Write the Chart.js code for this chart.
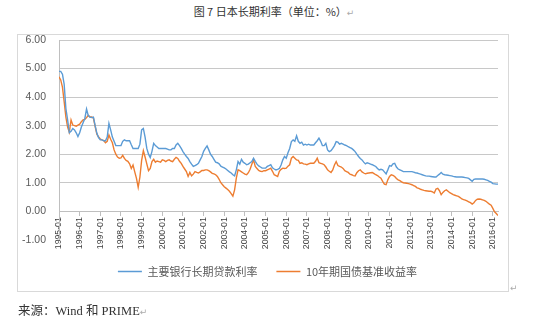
<!DOCTYPE html>
<html>
<head>
<meta charset="utf-8">
<script src="https://cdn.jsdelivr.net/npm/chart.js@4.4.0/dist/chart.umd.min.js"></script>
<style>
  body { margin: 0; background: #fff; }
  #pagina { position: relative; width: 550px; height: 322px; overflow: hidden; }
  #titulo { position: absolute; top: 3px; left: 0; width: 548px; text-align: center; font: 11px "Noto Sans CJK SC"; color: #333; }
  #moldura { position: absolute; left: 17px; top: 34px; width: 490px; height: 256px; border: 1px solid #d9d9d9; }
  #grafico { position: absolute; left: 0; top: 0; }
  #fonte { position: absolute; left: 18px; top: 300px; font: 12.5px "Liberation Serif", "Noto Sans CJK SC"; color: #333; }
  .marca { color: #aaa; font: 9px "DejaVu Sans"; }
  #marcaMoldura { position: absolute; left: 510px; top: 283px; }
</style>
</head>
<body>
<div id="pagina">
  <div id="titulo">图 7 日本长期利率（单位：%）<span class="marca">↵</span></div>
  <div id="moldura"></div>
  <canvas id="grafico" width="550" height="322"></canvas>
  <span id="marcaMoldura" class="marca">↵</span>
  <div id="fonte"><span style="font-family:'Noto Sans CJK SC'">来源：</span>Wind <span style="font-family:'Noto Sans CJK SC'">和</span> PRIME<span class="marca">↵</span></div>
</div>
<script>
const anos = [1995, 1996, 1997, 1998, 1999, 2000, 2001, 2002, 2003, 2004, 2005,
              2006, 2007, 2008, 2009, 2010, 2011, 2012, 2013, 2014, 2015, 2016];

const nomesSeries = ['主要银行长期贷款利率', '10年期国债基准收益率'];

// 主要银行长期贷款利率, mensal, 1995-01 a 2016-04
const taxaBancos = [
  4.90, 4.90, 4.80, 4.45, 3.60, 3.20, 2.75, 2.80, 2.90, 2.85, 2.75, 2.62,
  2.75, 2.95, 3.10, 3.25, 3.58, 3.35, 3.30, 3.28, 3.30, 3.00, 2.73, 2.58,
  2.50, 2.50, 2.47, 2.47, 2.60, 3.08, 2.85, 2.60, 2.45, 2.30, 2.30, 2.30,
  2.30, 2.45, 2.50, 2.47, 2.47, 2.47, 2.33, 2.20, 2.20, 2.20, 2.20, 2.35,
  2.85, 2.90, 2.60, 2.20, 2.00, 1.88, 2.10, 2.38, 2.30, 2.25, 2.20, 2.20,
  2.20, 2.20, 2.20, 2.18, 2.15, 2.15, 2.20, 2.20, 2.32, 2.38, 2.30, 2.20,
  2.09, 2.00, 1.92, 1.85, 1.74, 1.65, 1.57, 1.60, 1.63, 1.68, 1.80, 1.92,
  2.10, 2.20, 2.29, 2.15, 2.00, 1.92, 1.82, 1.72, 1.70, 1.66, 1.58, 1.55,
  1.52, 1.48, 1.43, 1.38, 1.34, 1.28, 1.24, 1.45, 1.74, 1.65, 1.82, 1.72,
  1.68, 1.63, 1.65, 1.70, 1.74, 1.86, 1.75, 1.65, 1.59, 1.55, 1.51, 1.51,
  1.51, 1.57, 1.60, 1.63, 1.52, 1.48, 1.45, 1.47, 1.50, 1.62, 1.80, 1.92,
  1.86, 2.05, 2.20, 2.44, 2.50, 2.45, 2.64, 2.45, 2.38, 2.42, 2.32, 2.35,
  2.32, 2.35, 2.32, 2.32, 2.32, 2.40, 2.47, 2.56, 2.45, 2.30, 2.30, 2.38,
  2.15, 2.09, 2.12, 2.20, 2.30, 2.44, 2.42, 2.35, 2.38, 2.35, 2.32, 2.30,
  2.26, 2.23, 2.20, 2.15, 2.09, 2.00, 1.92, 1.85, 1.80, 1.72, 1.66, 1.70,
  1.68, 1.65, 1.63, 1.60, 1.57, 1.50, 1.45, 1.47, 1.45, 1.38, 1.31, 1.45,
  1.60, 1.58, 1.66, 1.68, 1.55, 1.48, 1.45, 1.42, 1.39, 1.39, 1.39, 1.39,
  1.39, 1.39, 1.37, 1.35, 1.34, 1.32, 1.30, 1.28, 1.26, 1.24, 1.23, 1.23,
  1.22, 1.21, 1.20, 1.20, 1.25, 1.30, 1.36, 1.30, 1.28, 1.27, 1.26, 1.25,
  1.24, 1.22, 1.21, 1.20, 1.20, 1.20, 1.20, 1.19, 1.18, 1.17, 1.15, 1.10,
  1.05, 1.12, 1.13, 1.13, 1.13, 1.13, 1.13, 1.12, 1.10, 1.08, 1.05, 1.02,
  0.97, 0.96, 0.95, 0.95
];

// 10年期国债基准收益率, mensal, 1995-01 a 2016-04
const rendimentoTitulos = [
  4.71, 4.60, 4.35, 3.84, 3.30, 2.95, 2.77, 3.20, 3.02, 3.00, 2.98, 3.02,
  3.05, 3.14, 3.20, 3.22, 3.28, 3.36, 3.30, 3.30, 3.26, 2.97, 2.70, 2.60,
  2.53, 2.50, 2.48, 2.40, 2.45, 2.67, 2.52, 2.40, 2.15, 2.00, 1.90, 1.86,
  1.87, 1.96, 1.85, 1.78, 1.75, 1.66, 1.50, 1.62, 1.38, 1.15, 0.84, 1.20,
  1.78, 2.12, 1.90, 1.66, 1.42, 1.50, 1.74, 1.82, 1.72, 1.76, 1.74, 1.72,
  1.80, 1.78, 1.74, 1.78, 1.80, 1.76, 1.74, 1.82, 1.89, 1.85, 1.75, 1.68,
  1.57, 1.48, 1.39, 1.22, 1.36, 1.24, 1.30, 1.39, 1.36, 1.34, 1.38, 1.43,
  1.43, 1.45, 1.45, 1.42, 1.38, 1.33, 1.31, 1.28, 1.22, 1.12, 1.00, 0.93,
  0.86, 0.81, 0.76, 0.70, 0.62, 0.53, 0.75, 1.16, 1.45, 1.42, 1.38, 1.34,
  1.30, 1.28, 1.35, 1.47, 1.65, 1.80, 1.57, 1.50, 1.43, 1.40, 1.39, 1.42,
  1.42, 1.45, 1.48, 1.51, 1.40, 1.28, 1.25, 1.22, 1.40, 1.47, 1.51, 1.50,
  1.51, 1.58, 1.63, 1.86, 1.92, 1.86, 1.80, 1.78, 1.68, 1.70, 1.66, 1.65,
  1.63, 1.66, 1.68, 1.68, 1.68, 1.75, 1.86, 1.70, 1.68, 1.66, 1.63, 1.55,
  1.45, 1.40, 1.36, 1.45, 1.62, 1.74, 1.60, 1.57, 1.55, 1.50, 1.42, 1.39,
  1.36, 1.30, 1.28, 1.25, 1.24, 1.35, 1.42, 1.45, 1.38, 1.34, 1.31, 1.33,
  1.34, 1.35, 1.36, 1.32, 1.28, 1.25, 1.20, 1.16, 1.05, 0.95, 0.93, 1.10,
  1.22, 1.28, 1.26, 1.22, 1.15, 1.10, 1.07, 1.03, 1.00, 0.99, 0.98, 0.97,
  0.95, 0.93, 0.90, 0.87, 0.82, 0.80, 0.77, 0.75, 0.73, 0.72, 0.71, 0.70,
  0.70, 0.68, 0.64, 0.78, 0.80, 0.72, 0.58, 0.66, 0.72, 0.75, 0.70, 0.65,
  0.62, 0.58, 0.56, 0.54, 0.52, 0.48, 0.43, 0.41, 0.39, 0.36, 0.33, 0.30,
  0.25, 0.30, 0.38, 0.42, 0.43, 0.42, 0.40, 0.38, 0.35, 0.30, 0.25, 0.21,
  0.10, -0.02, -0.08, -0.15
];

document.addEventListener('DOMContentLoaded', function() {
    criarGrafico();
});

function montarMeses() {
    const meses = [];
    anos.forEach(ano => {
        for (let m = 1; m <= 12; m++) {
            meses.push(ano + '-' + String(m).padStart(2, '0'));
        }
    });
    return meses;
}

function paraPontos(valores) {
    return valores.map((v, i) => ({ x: i, y: v }));
}

function criarGrafico() {
    const ctx = document.getElementById('grafico').getContext('2d');
    const meses = montarMeses();
    const corEixo = '#bfbfbf';

    new Chart(ctx, {
        type: 'line',
        data: {
            datasets: [{
                label: nomesSeries[0],
                data: paraPontos(taxaBancos),
                borderColor: '#5b9bd5',
                backgroundColor: '#5b9bd5',
                borderWidth: 1.4,
                pointRadius: 0
            }, {
                label: nomesSeries[1],
                data: paraPontos(rendimentoTitulos),
                borderColor: '#ed7d31',
                backgroundColor: '#ed7d31',
                borderWidth: 1.4,
                pointRadius: 0
            }]
        },
        options: {
            responsive: false,
            animation: false,
            layout: {
                padding: { left: 21, right: 36, top: 40, bottom: 35 }
            },
            plugins: {
                tooltip: { enabled: false },
                legend: {
                    position: 'bottom',
                    title: { display: true, text: '', font: { size: 1 }, padding: { top: 6, bottom: 0 } },
                    labels: {
                        usePointStyle: true,
                        pointStyle: 'line',
                        pointStyleWidth: 24,
                        boxHeight: 11,
                        padding: 19,
                        color: '#595959',
                        font: { family: 'Noto Sans CJK SC', size: 11 }
                    }
                }
            },
            scales: {
                x: {
                    type: 'linear',
                    position: { y: 0 },
                    min: 0,
                    max: taxaBancos.length - 1,
                    grid: { drawOnChartArea: false, drawTicks: true, tickLength: 4, color: corEixo },
                    border: { color: corEixo },
                    ticks: {
                        stepSize: 12,
                        includeBounds: false,
                        autoSkip: false,
                        minRotation: 90,
                        maxRotation: 90,
                        padding: 2,
                        color: '#404040',
                        font: { family: 'Liberation Sans', size: 8.7 },
                        callback: v => meses[v]
                    }
                },
                y: {
                    min: -1,
                    max: 6,
                    afterFit: escala => { escala.width = 38; },
                    grid: {
                        drawTicks: false,
                        color: c => c.tick.value <= 0 ? 'rgba(0,0,0,0)' : '#c8c8c8'
                    },
                    border: { color: corEixo },
                    ticks: {
                        stepSize: 1,
                        padding: 13,
                        color: '#595959',
                        font: { family: 'Liberation Sans', size: 10.5 },
                        callback: v => v.toFixed(2)
                    }
                },
                // margem vazia à direita da área do gráfico (a legenda continua até a moldura)
                margemDireita: {
                    type: 'linear',
                    position: 'right',
                    grid: { display: false },
                    border: { display: false },
                    ticks: { display: false },
                    afterFit: escala => { escala.width = 16; }
                }
            }
        }
    });
}
</script>
</body>
</html>
